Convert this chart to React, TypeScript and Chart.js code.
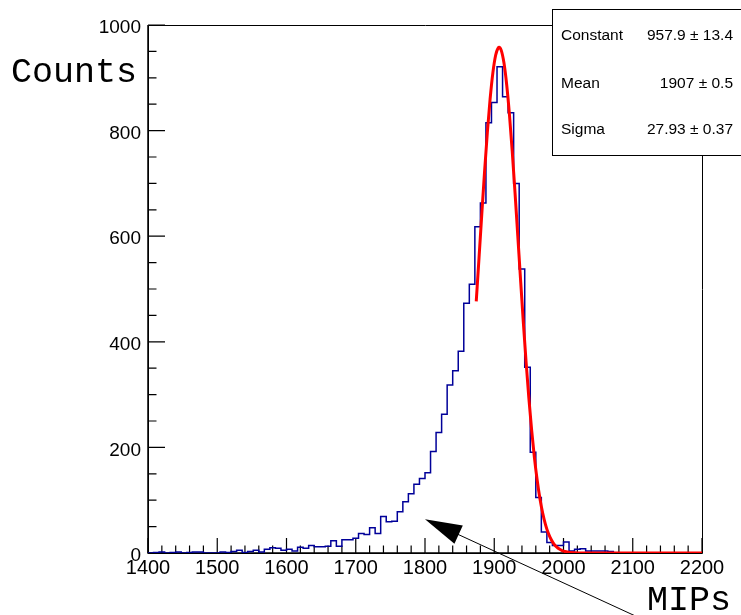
import React, { useEffect, useRef } from 'react';
import { Chart, registerables } from 'chart.js';

Chart.register(...registerables);

// Histogram: 100 bins from 1400 to 2200 (bin width 8)
const BIN_START = 1400;
const BIN_WIDTH = 8;
const counts = [
  0, 1, 2, 0, 1, 2, 0, 1, 2, 2,
  0, 0, 0, 2, 1, 3, 5, 1, 3, 5,
  2, 7, 10, 9, 5, 7, 4, 11, 9, 14,
  12, 12, 13, 23, 13, 25, 25, 28, 37, 35,
  48, 37, 69, 59, 60, 78, 97, 112, 130, 141,
  152, 192, 228, 263, 318, 345, 382, 473, 509, 618,
  663, 815, 853, 921, 864, 834, 700, 538, 352, 191,
  105, 40, 20, 14, 14, 21, 4, 7, 8, 4,
  4, 4, 4, 3, 0, 0, 0, 0, 0, 0,
  0, 0, 0, 0, 0, 0, 0, 0, 0, 0,
];

const fitX = [
  1874, 1878, 1882, 1886, 1890, 1894, 1898, 1902, 1906, 1907, 1910, 1914, 1918,
  1922, 1926, 1930, 1934, 1938, 1942, 1946, 1950, 1954, 1958, 1962, 1966, 1970,
  1974, 1978, 1982, 1986, 1990, 1994, 1998, 2002, 2010, 2022, 2200,
];
const fitY = [
  476.6, 558.7, 641.7, 722.1, 795.9, 859.5, 909.4, 942.7, 957.3, 957.9, 952.4,
  928.3, 886.4, 829.3, 760.0, 682.4, 600.3, 517.4, 436.8, 361.3, 292.8, 232.5,
  180.8, 137.8, 102.9, 75.3, 53.9, 37.8, 26.0, 17.5, 11.6, 7.5, 4.7, 2.9, 1.1,
  0.2, 0,
];

const xTicks = [1400, 1500, 1600, 1700, 1800, 1900, 2000, 2100, 2200];
const yTicks = [0, 200, 400, 600, 800, 1000];
const xMinorStep = 20;
const yMinorStep = 50;

const statLabels = ['Constant', 'Mean', 'Sigma'];
const statValues = ['957.9 ± 13.4', '1907 ± 0.5', '27.93 ± 0.37'];

const xTitle = 'MIPs';
const yTitle = 'Counts';

// arrow annotation in data coordinates
const arrowTip = { x: 1800, y: 64 };
const arrowTail = { x: 2105, y: -120 };

const SANS = '"Liberation Sans", Arial, sans-serif';
const MONO = '"Liberation Mono", "Courier New", monospace';

const rootPlugin = {
  id: 'rootStyle',
  beforeDatasetsDraw(chart: any) {
    const { ctx, chartArea: a, scales } = chart;
    const x = scales.x;
    const y = scales.y;
    ctx.save();
    ctx.strokeStyle = '#000';
    ctx.lineWidth = 1;
    // frame
    ctx.beginPath();
    ctx.rect(a.left + 0.5, a.top + 0.5, a.right - a.left, a.bottom - a.top);
    ctx.stroke();
    ctx.lineWidth = 1.5;
    ctx.beginPath();
    ctx.moveTo(a.left, a.top);
    ctx.lineTo(a.left, a.bottom);
    ctx.lineTo(a.right, a.bottom);
    ctx.stroke();
    // x ticks
    ctx.lineWidth = 1.2;
    ctx.beginPath();
    for (let v = x.min; v <= x.max + 0.001; v += xMinorStep) {
      const px = x.getPixelForValue(v);
      const len = Math.abs(v % 100) < 0.001 ? 15 : 7.5;
      ctx.moveTo(px, a.bottom);
      ctx.lineTo(px, a.bottom - len);
    }
    // y ticks
    for (let v = y.min; v <= y.max + 0.001; v += yMinorStep) {
      const py = y.getPixelForValue(v);
      const len = Math.abs(v % 200) < 0.001 ? 17 : 8.5;
      ctx.moveTo(a.left, py);
      ctx.lineTo(a.left + len, py);
    }
    ctx.stroke();
    ctx.restore();
  },
  afterDatasetsDraw(chart: any) {
    const { ctx, scales } = chart;
    const x = scales.x;
    const y = scales.y;
    ctx.save();
    // arrow
    const tx = x.getPixelForValue(arrowTip.x);
    const ty = y.getPixelForValue(arrowTip.y);
    const ex = x.getPixelForValue(arrowTail.x);
    const ey = y.getPixelForValue(arrowTail.y);
    const dx = ex - tx;
    const dy = ey - ty;
    const L = Math.hypot(dx, dy);
    const ux = dx / L;
    const uy = dy / L;
    const hl = 37;
    const hw = 10;
    ctx.strokeStyle = '#000';
    ctx.fillStyle = '#000';
    ctx.lineWidth = 1;
    ctx.beginPath();
    ctx.moveTo(tx + ux * hl * 0.8, ty + uy * hl * 0.8);
    ctx.lineTo(ex, ey);
    ctx.stroke();
    const bx = tx + ux * hl;
    const by = ty + uy * hl;
    ctx.beginPath();
    ctx.moveTo(tx, ty);
    ctx.lineTo(bx - uy * hw, by + ux * hw);
    ctx.lineTo(bx + uy * hw, by - ux * hw);
    ctx.closePath();
    ctx.fill();

    // axis titles
    ctx.fillStyle = '#000';
    ctx.font = `35px ${MONO}`;
    ctx.textAlign = 'left';
    ctx.textBaseline = 'alphabetic';
    ctx.fillText(yTitle, 11, 82);
    ctx.fillText(xTitle, 647, 610);

    // stats box
    ctx.fillStyle = '#fff';
    ctx.fillRect(552.5, 9.5, 200, 146);
    ctx.strokeStyle = '#000';
    ctx.lineWidth = 1;
    ctx.strokeRect(552.5, 9.5, 200, 146);
    ctx.fillStyle = '#000';
    ctx.font = `15.5px ${SANS}`;
    const baselines = [39.5, 88, 134];
    statLabels.forEach((lab, i) => {
      ctx.textAlign = 'left';
      ctx.fillText(lab, 561, baselines[i]);
      ctx.textAlign = 'right';
      ctx.fillText(statValues[i], 733, baselines[i]);
    });
    ctx.restore();
  },
};

export default function App() {
  const ref = useRef<HTMLCanvasElement | null>(null);
  useEffect(() => {
    if (!ref.current) return;
    const histData = counts.map((c, i) => ({ x: BIN_START + i * BIN_WIDTH, y: c }));
    histData.push({ x: BIN_START + counts.length * BIN_WIDTH, y: counts[counts.length - 1] });
    const fitData = fitX.map((v, i) => ({ x: v, y: fitY[i] }));
    const chart = new Chart(ref.current, {
      type: 'line',
      data: {
        datasets: [
          {
            label: 'fit',
            data: fitData,
            borderColor: '#ff0000',
            borderWidth: 3,
            pointRadius: 0,
            fill: false,
            cubicInterpolationMode: 'monotone',
            order: 0,
          },
          {
            label: 'hist',
            data: histData,
            borderColor: '#000099',
            borderWidth: 1.5,
            pointRadius: 0,
            fill: false,
            stepped: 'before',
            order: 1,
          },
        ],
      },
      options: {
        animation: false,
        responsive: false,
        maintainAspectRatio: false,
        layout: { padding: { left: 0, right: 39, top: 25, bottom: 0 } },
        plugins: { legend: { display: false }, tooltip: { enabled: false } },
        scales: {
          x: {
            type: 'linear',
            min: 1400,
            max: 2200,
            afterBuildTicks: (s: any) => {
              s.ticks = xTicks.map((v) => ({ value: v }));
            },
            afterFit: (s: any) => {
              s.height = 62;
            },
            grid: { display: false, drawTicks: false },
            border: { display: false },
            ticks: {
              autoSkip: false,
              maxRotation: 0,
              padding: 3,
              color: '#000',
              font: { family: SANS, size: 20 },
              callback: (v: any) => String(v),
            },
          },
          y: {
            type: 'linear',
            min: 0,
            max: 1000,
            afterBuildTicks: (s: any) => {
              s.ticks = yTicks.map((v) => ({ value: v }));
            },
            afterFit: (s: any) => {
              s.width = 148;
            },
            grid: { display: false, drawTicks: false },
            border: { display: false },
            ticks: {
              padding: 7,
              labelOffset: 3,
              color: '#000',
              font: { family: SANS, size: 19 },
              callback: (v: any) => String(v),
            },
          },
        },
      },
      plugins: [rootPlugin],
    } as any);
    return () => chart.destroy();
  }, []);
  return (
    <div style={{ position: 'fixed', left: 0, top: 0, width: 741, height: 615, background: '#fff' }}>
      <canvas ref={ref} width={741} height={615} style={{ display: 'block' }} />
    </div>
  );
}
